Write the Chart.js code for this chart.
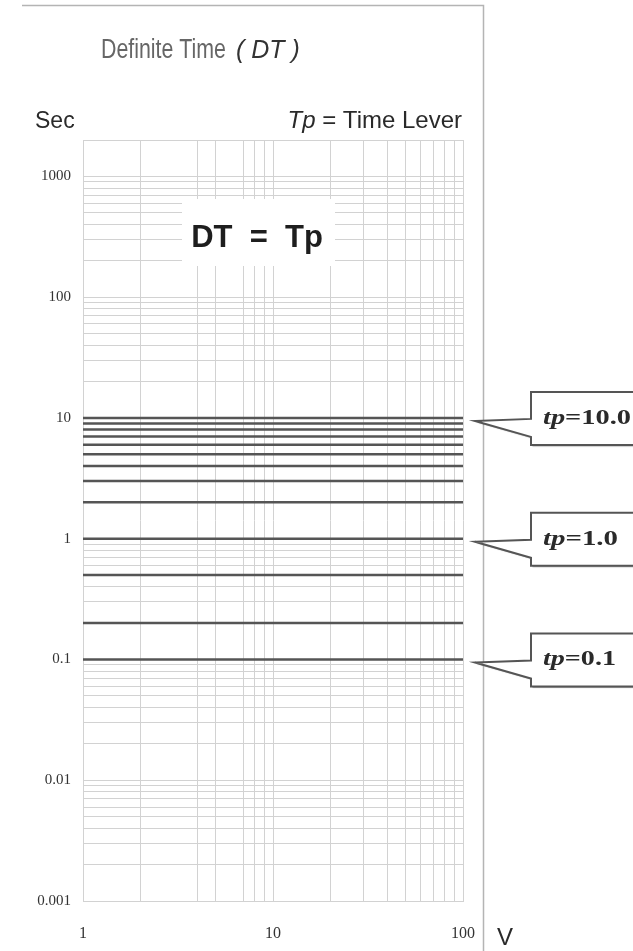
<!DOCTYPE html>
<html>
<head>
<meta charset="utf-8">
<script src="https://cdn.jsdelivr.net/npm/chart.js@4"></script>
<style>
  body { margin: 0; background: #fff; }
  canvas { display: block; }
</style>
</head>
<body>
<canvas id="dtChart" width="633" height="951"></canvas>
<script>
// time lever settings drawn as flat lines (sec)
const tpValues = [10, 9, 8, 7, 6, 5, 4, 3, 2, 1, 0.5, 0.2, 0.1];
const xRange = [1, 100];
const xTickLabels = [1, 10, 100];
const xGridValues = [1, 2, 4, 5, 7, 8, 9, 10, 20, 30, 40, 50, 60, 70, 80, 90, 100];
const yTickLabels = [0.001, 0.01, 0.1, 1, 10, 100, 1000];
const yMax = 2000;
const calloutValues = [10, 1, 0.1];
const calloutLabels = ['=10.0', '=1.0', '=0.1'];

const yGridValues = [];
yTickLabels.forEach(d => {
  for (let m = 1; m <= 9; m++) {
    if (m * d <= yMax) yGridValues.push(m === 1 ? d : m * d);
  }
});
yGridValues.push(yMax);

const datasets = tpValues.map(v => ({
  label: 'tp=' + v,
  data: xRange.map(x => ({ x: x, y: v })),
  borderColor: '#555',
  borderWidth: 2.5,
  pointRadius: 0,
  fill: false
}));

const gridColor = '#d2d2d2';

const decor = {
  id: 'decor',
  afterDraw(chart) {
    const ctx = chart.ctx;
    const xs = chart.scales.x, ys = chart.scales.y;
    ctx.save();

    // outer frame
    ctx.strokeStyle = '#b4b4b4';
    ctx.lineWidth = 1.5;
    ctx.beginPath();
    ctx.moveTo(22, 5.5); ctx.lineTo(483.5, 5.5); ctx.lineTo(483.5, 951);
    ctx.stroke();

    // title
    ctx.textBaseline = 'alphabetic';
    ctx.textAlign = 'left';
    ctx.fillStyle = '#666';
    ctx.font = '27px "Liberation Sans"';
    let w = ctx.measureText('Definite Time').width;
    ctx.save();
    ctx.translate(101, 58);
    ctx.scale(125 / w, 1);
    ctx.fillText('Definite Time', 0, 0);
    ctx.restore();
    ctx.fillStyle = '#333';
    ctx.font = 'italic 25px "Liberation Sans"';
    ctx.fillText('( DT )', 236, 58);

    // axis captions
    ctx.fillStyle = '#2a2a2a';
    ctx.font = '23px "Liberation Sans"';
    ctx.fillText('Sec', 35, 128);
    ctx.font = '24px "Liberation Sans"';
    ctx.textAlign = 'right';
    ctx.fillText('Time Lever', 462, 128);
    const tlW = ctx.measureText('Time Lever').width;
    ctx.fillText(' = ', 462 - tlW, 128);
    const eqW = ctx.measureText(' = ').width;
    ctx.font = 'italic 24px "Liberation Sans"';
    ctx.fillText('Tp', 462 - tlW - eqW, 128);
    ctx.textAlign = 'left';
    ctx.font = '24px "Liberation Sans"';
    ctx.fillText('V', 497, 945);

    // DT = Tp box
    ctx.fillStyle = '#fff';
    ctx.fillRect(182, 199, 153, 67);
    ctx.fillStyle = '#1e1e1e';
    ctx.font = 'bold 31px "Liberation Sans"';
    ctx.textAlign = 'center';
    ctx.fillText('DT  =  Tp', 257, 247);

    // callouts
    const tipX = xs.right + 12, boxL = 531, boxR = 645;
    calloutValues.forEach((v, i) => {
      const L = ys.getPixelForValue(v);
      ctx.beginPath();
      ctx.moveTo(boxR, L - 26);
      ctx.lineTo(boxL, L - 26);
      ctx.lineTo(boxL, L + 1);
      ctx.lineTo(tipX, L + 3);
      ctx.lineTo(boxL, L + 19);
      ctx.lineTo(boxL, L + 27);
      ctx.lineTo(boxR, L + 27);
      ctx.closePath();
      ctx.fillStyle = '#fff';
      ctx.shadowColor = 'rgba(0,0,0,0.35)';
      ctx.shadowOffsetX = 1.5;
      ctx.shadowOffsetY = 1.5;
      ctx.shadowBlur = 1;
      ctx.fill();
      ctx.shadowColor = 'transparent';
      ctx.strokeStyle = '#555';
      ctx.lineWidth = 2;
      ctx.stroke();

      ctx.fillStyle = '#2a2a2a';
      ctx.textAlign = 'left';
      ctx.font = 'italic bold 22px "Liberation Serif"';
      const w1 = ctx.measureText('tp').width;
      ctx.font = 'bold 22px "Liberation Serif"';
      const w2 = ctx.measureText(calloutLabels[i]).width;
      const target = i === 0 ? 88 : (i === 1 ? 75 : 73);
      const sx = target / (w1 + w2);
      ctx.save();
      ctx.translate(543, L + 6);
      ctx.scale(sx, 1);
      ctx.font = 'italic bold 22px "Liberation Serif"';
      ctx.fillText('tp', 0, 0);
      ctx.font = 'bold 22px "Liberation Serif"';
      ctx.fillText(calloutLabels[i], w1, 0);
      ctx.restore();
    });
    ctx.restore();
  }
};

const config = {
  type: 'line',
  data: { datasets: datasets },
  options: {
    responsive: false,
    animation: false,
    layout: { padding: { top: 140, right: 170, left: 0, bottom: 0 } },
    plugins: { legend: { display: false }, tooltip: { enabled: false } },
    scales: {
      x: {
        type: 'logarithmic',
        min: xRange[0],
        max: xRange[1],
        afterBuildTicks: s => { s.ticks = xGridValues.map(v => ({ value: v })); },
        afterFit: s => { s.height = 50; },
        grid: { color: gridColor, drawTicks: false, lineWidth: 1 },
        border: { color: gridColor },
        ticks: {
          autoSkip: false,
          maxRotation: 0,
          padding: 23,
          color: '#333',
          font: { family: 'Liberation Serif', size: 16 },
          callback: v => xTickLabels.includes(v) ? String(v) : ''
        }
      },
      y: {
        type: 'logarithmic',
        min: yTickLabels[0],
        max: yMax,
        afterBuildTicks: s => { s.ticks = yGridValues.map(v => ({ value: v })); },
        afterFit: s => { s.width = 83; },
        grid: { color: gridColor, drawTicks: false, lineWidth: 1 },
        border: { color: gridColor },
        ticks: {
          autoSkip: false,
          padding: 12,
          color: '#333',
          font: { family: 'Liberation Serif', size: 15 },
          callback: v => yTickLabels.includes(v) ? String(v) : ''
        }
      }
    }
  },
  plugins: [decor]
};

const dtChart = new Chart(document.getElementById('dtChart'), config);
</script>
</body>
</html>
